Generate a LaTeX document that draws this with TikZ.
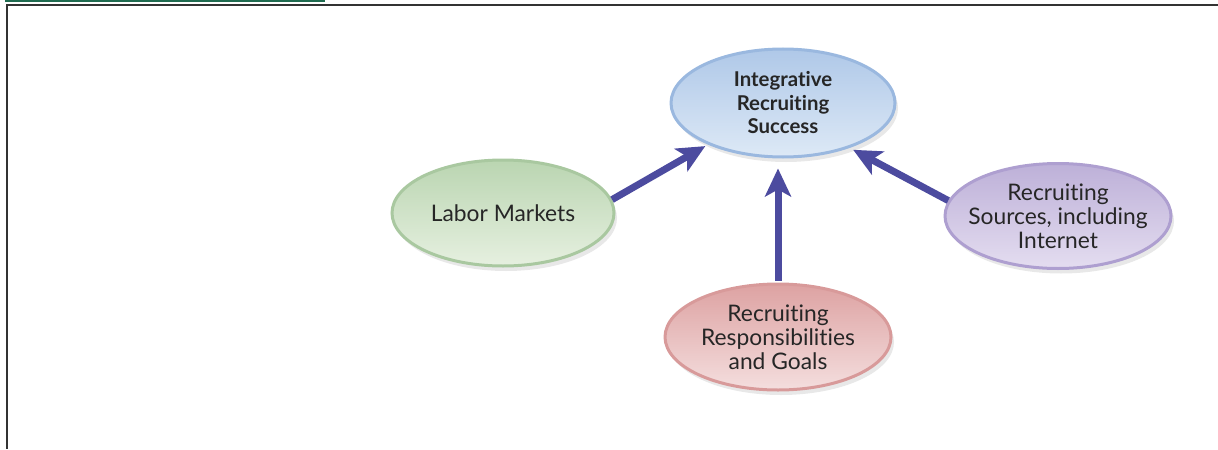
\documentclass[tikz,border=0pt]{standalone}
\usepackage{fontspec}
\setmainfont{Lato}[Ligatures=NoCommon]
\usepackage{tikz}
\usetikzlibrary{positioning,arrows.meta,shapes.geometric,shadows}
\definecolor{frameline}{HTML}{333333}
\definecolor{banner}{HTML}{1F6B4F}
\definecolor{flowblue}{HTML}{4C4B9F}
\definecolor{bluetop}{HTML}{AFC8E8}
\definecolor{bluebot}{HTML}{DDE9F6}
\definecolor{bluerim}{HTML}{9AB8DF}
\definecolor{greentop}{HTML}{BAD5B1}
\definecolor{greenbot}{HTML}{E6F0E0}
\definecolor{greenrim}{HTML}{A9C8A0}
\definecolor{violettop}{HTML}{BDB0D8}
\definecolor{violetbot}{HTML}{E4DDF0}
\definecolor{violetrim}{HTML}{AE9FD0}
\definecolor{rosetop}{HTML}{DDA2A2}
\definecolor{rosebot}{HTML}{F4DEDE}
\definecolor{roserim}{HTML}{D89A9A}

\begin{document}
\begin{tikzpicture}[
  x=0.5pt, y=-0.5pt,
  every label/.style={align=center, text=black!85, font=\fontsize{11.4}{12}\selectfont},
  topic/.style={ellipse, inner sep=0pt, line width=1.5pt,
    minimum width=111pt, minimum height=53pt,
    drop shadow={opacity=0.18, shadow xshift=1.5pt, shadow yshift=-2.5pt}},
  bluebox/.style={topic, draw=bluerim, top color=bluetop, bottom color=bluebot},
  greenbox/.style={topic, draw=greenrim, top color=greentop, bottom color=greenbot},
  violetbox/.style={topic, draw=violetrim, top color=violettop, bottom color=violetbot},
  rosebox/.style={topic, draw=roserim, top color=rosetop, bottom color=rosebot},
  flow/.style={draw=flowblue, line width=3.5pt,
    -{Stealth[length=14pt, width=13pt, inset=3.5pt]}}
]
  \useasboundingbox (0,0) rectangle (1218,449);
  % frame of the figure
  \fill[banner] (5,0) rectangle (325,1.6);
  \draw[frameline, line width=0.8pt] (1218,5) -- (7,5) -- (7,449);

  % the four topics
  \node[bluebox, minimum width=112pt, minimum height=54pt,
    label={[font=\fontsize{10.2}{11.75}\selectfont\bfseries]center:Integrative\\Recruiting\\Success}]
    (success) at (783,103) {};
  \node[greenbox, label={center:Labor Markets}] (labor) at (503,213) {};
  \node[violetbox, minimum width=113pt, minimum height=52.5pt,
    label={center:Recruiting\\Sources, including\\Internet}] (sources) at (1058,216) {};
  \node[rosebox, minimum width=113pt,
    label={center:Recruiting\\Responsibilities\\and Goals}] (goals) at (778,337) {};

  % links into the centre
  \draw[flow, shorten >=1.5pt] (labor.7) -- (success.209);
  \draw[flow, shorten >=2pt] (sources.172) -- (success.326);
  \draw[flow, shorten >=5pt, shorten <=1pt] (goals.north) -- (goals.north |- success.south);
\end{tikzpicture}
\end{document}
